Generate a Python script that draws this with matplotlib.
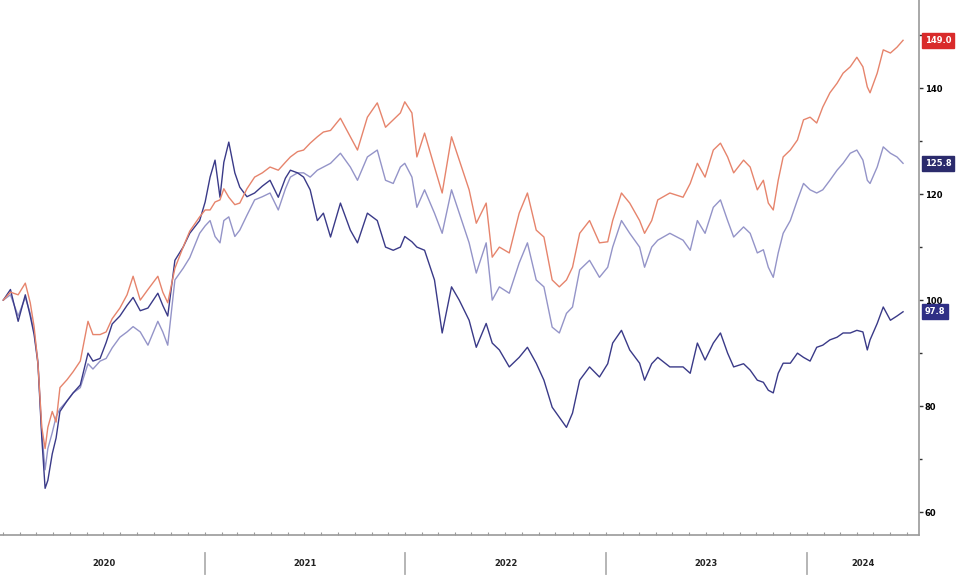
import matplotlib
matplotlib.use("Agg")
import matplotlib.pyplot as plt
import matplotlib.dates as mdates
from matplotlib.ticker import MultipleLocator, FixedLocator
import pandas as pd

dates = [
    "2020-01-01", "2020-01-14", "2020-01-28", "2020-02-10", "2020-02-19", "2020-02-26",
    "2020-03-04", "2020-03-11", "2020-03-17", "2020-03-22", "2020-03-30", "2020-04-06",
    "2020-04-13", "2020-04-26", "2020-05-07", "2020-05-20", "2020-06-03", "2020-06-12",
    "2020-06-25", "2020-07-06", "2020-07-17", "2020-07-31", "2020-08-13", "2020-08-24",
    "2020-09-06", "2020-09-20", "2020-10-08", "2020-10-17", "2020-10-26", "2020-11-08",
    "2020-11-23", "2020-12-05", "2020-12-23", "2021-01-02", "2021-01-11", "2021-01-20",
    "2021-01-29", "2021-02-05", "2021-02-14", "2021-02-25", "2021-03-06", "2021-03-19",
    "2021-04-02", "2021-04-16", "2021-04-30", "2021-05-15", "2021-05-28", "2021-06-06",
    "2021-06-19", "2021-06-30", "2021-07-12", "2021-07-25", "2021-08-05", "2021-08-18",
    "2021-09-05", "2021-09-23", "2021-10-06", "2021-10-24", "2021-11-11", "2021-11-26",
    "2021-12-10", "2021-12-23", "2021-12-31", "2022-01-13", "2022-01-22", "2022-02-05",
    "2022-02-23", "2022-03-09", "2022-03-26", "2022-04-09", "2022-04-27", "2022-05-10",
    "2022-05-28", "2022-06-08", "2022-06-21", "2022-07-09", "2022-07-27", "2022-08-11",
    "2022-08-27", "2022-09-10", "2022-09-25", "2022-10-08", "2022-10-21", "2022-11-01",
    "2022-11-14", "2022-12-02", "2022-12-20", "2023-01-04", "2023-01-13", "2023-01-29",
    "2023-02-13", "2023-03-03", "2023-03-12", "2023-03-25", "2023-04-05", "2023-04-27",
    "2023-05-21", "2023-06-03", "2023-06-16", "2023-06-30", "2023-07-15", "2023-07-28",
    "2023-08-10", "2023-08-21", "2023-09-08", "2023-09-20", "2023-10-03", "2023-10-14",
    "2023-10-23", "2023-11-01", "2023-11-10", "2023-11-19", "2023-12-02", "2023-12-15",
    "2023-12-26", "2024-01-07", "2024-01-19", "2024-01-30", "2024-02-12", "2024-02-25",
    "2024-03-07", "2024-03-20", "2024-04-01", "2024-04-12", "2024-04-20", "2024-04-25",
    "2024-05-08", "2024-05-19", "2024-06-01", "2024-06-13", "2024-06-24",
]

red_series = [
    100, 101.5, 101, 103.2, 99.5, 95, 88, 76, 72, 76, 79, 77,
    83.5, 85, 86.5, 88.5, 96, 93.5, 93.5, 94, 96.5, 98.5, 101, 104.5,
    100, 102, 104.5, 101.5, 99.5, 106, 110, 113, 115.7, 117, 117, 118.5,
    118.9, 121, 119.4, 118, 118.3, 121, 123.2, 124, 125.1, 124.5, 126, 127,
    128, 128.3, 129.6, 130.8, 131.7, 132, 134.3, 130.8, 128.3, 134.5, 137.2, 132.6,
    134, 135.3, 137.4, 135.3, 127, 131.5, 125.1, 120.2, 130.8, 126.4, 120.8, 114.5,
    118.3, 108.1, 110, 108.9, 116.4, 120.2, 113.2, 111.9, 103.8, 102.5, 103.8, 106.2,
    112.6, 115, 110.8, 111, 115, 120.2, 118.3, 115, 112.6, 115, 118.9, 120.2,
    119.4, 122, 125.8, 123.2, 128.3, 129.6, 127, 124, 126.4, 125.1, 120.8, 122.6,
    118.3, 117, 122.6, 127, 128.3, 130.2, 134, 134.5, 133.4, 136.4, 139.1, 140.9,
    142.8, 144, 145.8, 144, 140.2, 139.1, 142.8, 147.2, 146.6, 147.7, 149,
]

mid_series = [
    100, 101, 97, 100.5, 97.5, 94, 88.5, 75, 68, 72, 75, 78,
    79.5, 81, 82.5, 83.5, 88, 87, 88.5, 89, 91, 93, 94, 95,
    94, 91.5, 96, 94, 91.5, 103.8, 106, 108, 112.6, 114, 115, 112,
    110.8, 115, 115.7, 112, 113.2, 116, 118.9, 119.5, 120.2, 117, 121, 123.2,
    124, 124, 123.2, 124.5, 125.1, 125.8, 127.7, 125.1, 122.6, 127, 128.3, 122.6,
    122, 125.1, 125.8, 123.2, 117.5, 120.8, 116.4, 112.6, 120.8, 116.4, 110.8, 105.1,
    110.8, 100, 102.5, 101.3, 107, 110.8, 103.8, 102.5, 94.9, 93.8, 97.5, 98.7,
    105.7, 107.5, 104.3, 106.2, 110, 115, 112.6, 110, 106.2, 110, 111.3, 112.6,
    111.3, 109.4, 115, 112.6, 117.5, 118.9, 115, 111.9, 113.8, 112.6, 108.9, 109.5,
    106.2, 104.3, 108.9, 112.6, 115, 118.9, 122, 120.8, 120.2, 120.8, 122.6, 124.5,
    125.8, 127.7, 128.3, 126.4, 122.6, 122, 125.1, 128.9, 127.7, 127, 125.8,
]

navy_series = [
    100, 102, 96, 101, 97, 93.5, 88, 74, 64.5, 66, 71, 74,
    79, 81, 82.5, 84, 90, 88.5, 89, 92, 95.5, 97, 99, 100.5,
    98, 98.5, 101.3, 99, 97, 107.5, 110, 112.6, 115, 118.5, 123.2, 126.4,
    119.4, 126, 129.8, 124, 121.3, 119.5, 120.2, 121.5, 122.6, 119.4, 123, 124.5,
    124, 123.2, 120.8, 115, 116.4, 111.9, 118.3, 113.2, 110.8, 116.4, 115, 110,
    109.4, 110, 112, 111, 110, 109.4, 103.8, 93.8, 102.5, 100, 96.2, 91.1,
    95.6, 91.9, 90.6, 87.4, 89.2, 91.1, 88.1, 84.9, 79.8, 77.9, 76, 78.7,
    84.9, 87.4, 85.5, 88, 91.9, 94.3, 90.6, 88.1, 84.9, 88, 89.2, 87.4,
    87.4, 86.2, 91.9, 88.7, 91.9, 93.8, 90, 87.4, 88, 86.8, 84.9, 84.5,
    83, 82.5, 86.2, 88.1, 88.1, 90, 89.2, 88.5, 91.1, 91.5, 92.5, 93,
    93.8, 93.8, 94.3, 94, 90.6, 92.5, 95.6, 98.7, 96.2, 97, 97.8,
]

year_labels = ["2020", "2021", "2022", "2023", "2024"]
end_labels = ["149.0", "125.8", "97.8"]
y_major = [60, 80, 100, 120, 140]

x = pd.to_datetime(dates)

fig = plt.figure(figsize=(9.6, 5.77), dpi=100)
ax = fig.add_axes([0.0, 42 / 577, 919 / 960, 535 / 577])

red_c = "#e6846c"
mid_c = "#9494c8"
navy_c = "#3a3a88"

ax.plot(x, mid_series, color=mid_c, lw=1.0, zorder=2)
ax.plot(x, navy_series, color=navy_c, lw=1.0, zorder=3)
ax.plot(x, red_series, color=red_c, lw=1.0, zorder=4)

xmin = pd.Timestamp("2019-12-26")
xmax = pd.Timestamp("2024-07-23")
ax.set_xlim(xmin, xmax)
ax.set_ylim(55.7, 156.6)

for s in ["left", "top"]:
    ax.spines[s].set_visible(False)
for s in ["right", "bottom"]:
    ax.spines[s].set_color("#9a9a9a")
    ax.spines[s].set_linewidth(1.2)

ax.yaxis.tick_right()
ax.yaxis.set_major_locator(FixedLocator(y_major))
ax.yaxis.set_minor_locator(MultipleLocator(10))
ax.set_yticklabels([str(v) for v in y_major], fontsize=6, fontweight="bold")
ax.tick_params(axis="y", which="major", length=3, width=1, color="#333333", pad=1)
ax.tick_params(axis="y", which="minor", length=2, width=1, color="#333333")

ax.xaxis.set_major_locator(mdates.MonthLocator())
ax.xaxis.set_major_formatter(plt.NullFormatter())
ax.tick_params(axis="x", which="major", length=2.5, width=0.8, color="#9a9a9a", direction="in")

trans = ax.get_xaxis_transform()
year_starts = [pd.Timestamp(f"{y}-01-01") for y in year_labels]
for ys in year_starts[1:]:
    ax.plot([ys, ys], [-0.034, -0.072], transform=trans, color="#b0b0b0",
            lw=1.3, clip_on=False)
bounds = year_starts + [xmax]
for i, lab in enumerate(year_labels):
    a = max(bounds[i], xmin)
    b = bounds[i + 1]
    mid = a + (b - a) / 2
    ax.text(mid, -0.053, lab, transform=trans, ha="center", va="center",
            fontsize=6, fontweight="bold", color="#222222")

end_vals = [red_series[-1], mid_series[-1], navy_series[-1]]
box_cols = ["#d92b2b", "#2b2b6c", "#2f2f85"]
for lab, v, c in zip(end_labels, end_vals, box_cols):
    ax.annotate(lab, xy=(1.0, v), xycoords=("axes fraction", "data"),
                xytext=(4, 0), textcoords="offset points", ha="left", va="center",
                fontsize=6, color="white", fontweight="bold",
                bbox=dict(boxstyle="square,pad=0.35", fc=c, ec=c),
                annotation_clip=False, zorder=6)

fig.savefig("out.png", dpi=100)
